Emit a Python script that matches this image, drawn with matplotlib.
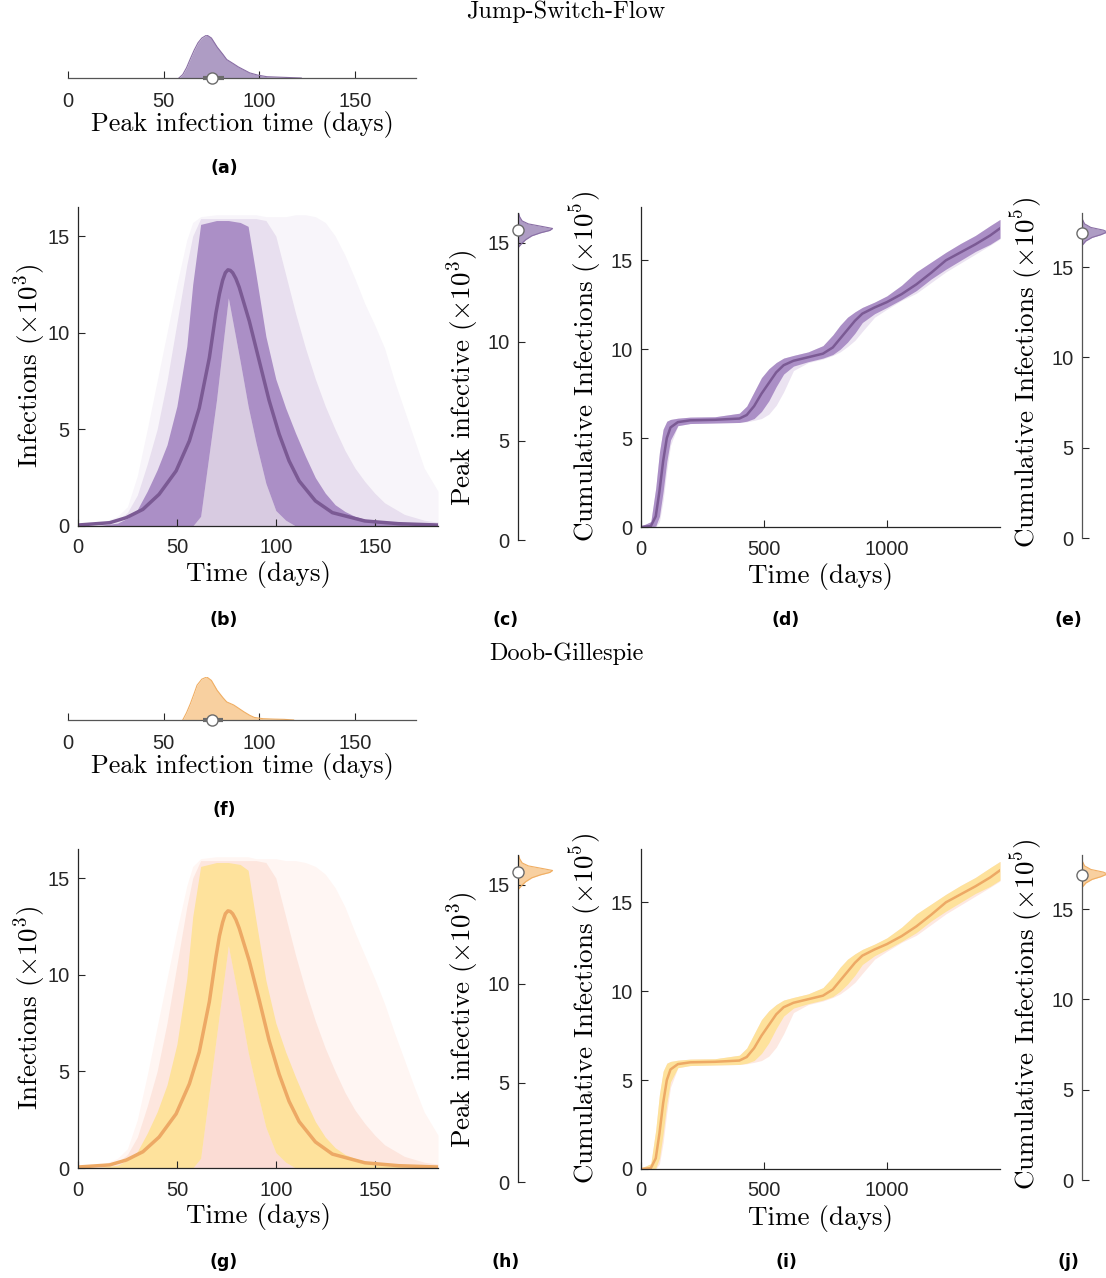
import numpy as np
import matplotlib
matplotlib.use("Agg")
import matplotlib.pyplot as plt

plt.rcParams['mathtext.fontset'] = 'cm'
plt.rcParams['axes.unicode_minus'] = False

W, H = 1106, 1278

# ---- peak infection time distributions (panels a, f) ----
peak_t_jsf = [58, 60, 62, 64, 66, 68, 70, 72.6, 75, 78, 81, 83, 86.6, 89, 92, 95, 99, 104, 110, 116, 122]
peak_t_jsf_dens = [0, 0.08, 0.24, 0.45, 0.65, 0.82, 0.93, 1.0, 0.93, 0.72, 0.55, 0.43, 0.33, 0.26, 0.19, 0.12, 0.07, 0.03, 0.02, 0.01, 0]
peak_t_dg = [60, 62, 64, 66, 67.5, 70, 72.6, 75, 78, 81, 83, 86.6, 89, 92, 95, 97.4, 102, 108, 113, 118]
peak_t_dg_dens = [0, 0.17, 0.38, 0.62, 0.81, 0.95, 1.0, 0.92, 0.69, 0.52, 0.42, 0.35, 0.28, 0.19, 0.11, 0.06, 0.03, 0.02, 0.015, 0]
peak_t_median = [75.4, 75.2]
peak_t_iqr = [(70.5, 81.5), (70.5, 81.0)]

# ---- infections over time (panels b, g), x10^3 ----
t_mean = [0, 16, 24.4, 32.8, 41, 49.6, 56.3, 61.3, 66.4, 69.7, 71.5, 73.1, 74.5, 75.8, 77, 78.2,
          79.8, 81.5, 86.6, 91.6, 96.6, 101.7, 106.7, 111.8, 120, 128.6, 145, 162, 182]
inf_mean_jsf = [0.05, 0.17, 0.43, 0.86, 1.64, 2.85, 4.4, 6.1, 8.7, 11.0, 12.0, 12.7, 13.1, 13.25, 13.22, 13.1,
                12.8, 12.35, 10.6, 8.55, 6.5, 4.75, 3.37, 2.33, 1.3, 0.69, 0.26, 0.12, 0.05]
inf_mean_dg = [0.05, 0.16, 0.41, 0.84, 1.6, 2.8, 4.35, 6.0, 8.6, 10.9, 12.0, 12.7, 13.15, 13.3, 13.27, 13.15,
               12.85, 12.4, 10.7, 8.7, 6.6, 4.85, 3.45, 2.4, 1.35, 0.72, 0.27, 0.12, 0.05]

t_env = [0, 10, 20, 25, 30, 35, 40, 45, 50, 55, 58, 62, 70, 76, 82, 86, 90, 95,
         100, 105, 110, 115, 120, 125, 130, 135, 140, 145, 150, 155, 160, 165, 170, 175, 182]
# envelopes of the whole ensemble (faint), the bulk (medium) and the core (dense)
jsf_faint_up = [0, 0.1, 0.5, 1.0, 2.6, 5.0, 7.5, 10.0, 12.5, 14.8, 15.7, 16.0, 16.1, 16.1, 16.1, 16.1, 16.1, 16.0,
                16.0, 16.0, 16.1, 16.1, 16.0, 15.7, 15.0, 14.0, 12.8, 11.5, 10.4, 9.2, 7.5, 6.0, 4.5, 3.0, 1.8]
jsf_mid_up = [0, 0.05, 0.3, 0.7, 1.6, 3.2, 5.0, 7.5, 10.5, 13.5, 15.0, 15.9, 15.9, 15.9, 15.9, 15.9, 15.9, 15.8,
              15.0, 13.0, 11.0, 9.2, 7.6, 6.2, 5.0, 3.9, 3.0, 2.3, 1.7, 1.2, 0.9, 0.6, 0.45, 0.3, 0.2]
jsf_core_up = [0, 0.02, 0.15, 0.4, 0.85, 1.8, 2.9, 4.2, 6.2, 9.3, 12.5, 15.6, 15.8, 15.8, 15.7, 15.5, 13.0, 9.8,
               7.6, 6.1, 4.8, 3.6, 2.5, 1.7, 1.1, 0.75, 0.5, 0.35, 0.25, 0.15, 0.1, 0.07, 0.05, 0.04, 0.03]
jsf_core_lo = [0, 0, 0, 0, 0, 0, 0, 0, 0, 0, 0, 0.5, 6.5, 11.8, 8.5, 6.2, 4.3, 2.2,
               0.8, 0.3, 0, 0, 0, 0, 0, 0, 0, 0, 0, 0, 0, 0, 0, 0, 0]

dg_faint_up = [0, 0.1, 0.5, 1.0, 2.5, 4.8, 7.3, 9.8, 12.3, 14.6, 15.6, 16.0, 16.1, 16.1, 16.1, 16.1, 16.0, 16.0,
               16.0, 15.9, 15.9, 15.8, 15.6, 15.2, 14.5, 13.5, 12.2, 11.0, 9.8, 8.5, 7.0, 5.6, 4.2, 2.9, 1.7]
dg_mid_up = [0, 0.05, 0.3, 0.7, 1.6, 3.2, 5.0, 7.5, 10.5, 13.5, 15.0, 15.9, 15.9, 15.9, 15.9, 15.9, 15.9, 15.8,
             15.0, 13.0, 11.0, 9.2, 7.6, 6.2, 5.0, 3.9, 3.0, 2.3, 1.7, 1.2, 0.9, 0.6, 0.45, 0.3, 0.2]
dg_core_up = [0, 0.02, 0.15, 0.4, 0.85, 1.8, 2.9, 4.3, 6.4, 9.8, 13.0, 15.6, 15.8, 15.8, 15.7, 15.4, 12.8, 9.7,
              7.5, 6.0, 4.7, 3.5, 2.4, 1.6, 1.05, 0.7, 0.5, 0.35, 0.25, 0.15, 0.1, 0.07, 0.05, 0.04, 0.03]
dg_core_lo = [0, 0, 0, 0, 0, 0, 0, 0, 0, 0, 0, 0.5, 6.8, 11.5, 8.3, 6.0, 4.2, 2.1,
              0.8, 0.3, 0, 0, 0, 0, 0, 0, 0, 0, 0, 0, 0, 0, 0, 0, 0]

# ---- peak infective (panels c, h), x10^3 ----
peak_i_y = [14.75, 14.95, 15.15, 15.35, 15.5, 15.62, 15.72, 15.82, 15.95, 16.1, 16.3, 16.58]
peak_i_dens = [0, 0.1, 0.22, 0.4, 0.65, 0.92, 1.0, 0.7, 0.3, 0.12, 0.05, 0]
peak_i_median = [15.65, 15.62]

# ---- cumulative infections (panels d, i), x10^5 ----
t_cum = [0, 40, 60, 75, 90, 105, 120, 150, 200, 300, 400, 430, 460, 490, 520, 550, 580, 620,
         680, 740, 780, 810, 840, 870, 900, 950, 1000, 1060, 1120, 1180, 1240, 1300, 1360, 1420, 1460]
cum_mean = [0, 0.05, 0.6, 2.0, 3.7, 5.0, 5.6, 5.9, 6.0, 6.03, 6.1, 6.3, 6.8, 7.5, 8.1, 8.7, 9.1, 9.35,
            9.55, 9.75, 10.1, 10.6, 11.1, 11.6, 12.0, 12.35, 12.65, 13.1, 13.65, 14.3, 15.0, 15.45, 15.9, 16.4, 16.8]
cum_up = [0.05, 0.3, 2.2, 4.2, 5.5, 5.95, 6.05, 6.12, 6.18, 6.2, 6.4, 6.8, 7.6, 8.4, 8.9, 9.25, 9.5, 9.65,
          9.85, 10.2, 10.8, 11.35, 11.8, 12.1, 12.35, 12.65, 13.0, 13.6, 14.35, 14.9, 15.45, 15.95, 16.4, 16.95, 17.3]
cum_lo = [0, 0, 0.05, 0.6, 2.0, 3.7, 4.9, 5.7, 5.82, 5.85, 5.88, 5.95, 6.1, 6.5, 7.1, 7.9, 8.6, 9.05,
          9.3, 9.5, 9.7, 10.0, 10.4, 10.9, 11.5, 12.0, 12.35, 12.8, 13.3, 13.95, 14.5, 15.0, 15.5, 15.9, 16.25]
cum_faint_lo = [0, 0, 0, 0.3, 1.5, 3.2, 4.6, 5.7, 5.82, 5.85, 5.88, 5.92, 6.0, 6.1, 6.35, 6.85, 7.6, 8.8,
                9.25, 9.45, 9.65, 9.85, 10.15, 10.5, 11.0, 11.8, 12.25, 12.75, 13.15, 13.75, 14.35, 14.85, 15.35, 15.85, 16.2]

# ---- cumulative infections at end (panels e, j), x10^5 ----
final_y = [16.2, 16.45, 16.65, 16.8, 16.95, 17.05, 17.2, 17.4, 17.7]
final_dens = [0, 0.15, 0.4, 0.75, 1.0, 0.85, 0.35, 0.1, 0]
final_median = [16.9, 16.9]

schemes = [
    dict(name="Jump-Switch-Flow", off=0, labels="abcde",
         faint="#f8f5fa", mid="#e8dfef", inner="#d8cbe1", core="#ab8fc6", line="#7b5a94",
         vfill="#ae9cc4", vedge="#8a6fa5", cfaint="#ebe3f1",
         pt=peak_t_jsf, ptd=peak_t_jsf_dens, mean=inf_mean_jsf,
         fu=jsf_faint_up, mu=jsf_mid_up, cu=jsf_core_up, cl=jsf_core_lo),
    dict(name="Doob-Gillespie", off=642, labels="fghij",
         faint="#fff6f3", mid="#fde6de", inner="#fbdcd4", core="#fee29c", line="#eda965",
         vfill="#f8d0a0", vedge="#f0ae63", cfaint="#fde8e1",
         pt=peak_t_dg, ptd=peak_t_dg_dens, mean=inf_mean_dg,
         fu=dg_faint_up, mu=dg_mid_up, cu=dg_core_up, cl=dg_core_lo),
]

fig = plt.figure(figsize=(W / 100, H / 100), dpi=100)
AX_COL = "#262626"
SERIF = "cmr10"
SANS = "Liberation Sans"
TICK_FS = 14.5
LAB_FS = 19.5


def px_axes(left, right, bottom, top):
    return fig.add_axes([left / W, 1 - bottom / H, (right - left) / W, (bottom - top) / H])


def style(ax, keep):
    for s in ["left", "right", "top", "bottom"]:
        ax.spines[s].set_visible(s in keep)
        ax.spines[s].set_color(AX_COL)
        ax.spines[s].set_linewidth(0.9)
    ax.tick_params(direction="in", length=5, width=0.8, colors=AX_COL,
                   labelsize=TICK_FS, labelcolor=AX_COL)
    ax.tick_params(axis="x", pad=9)
    ax.tick_params(axis="y", pad=6)
    ax.set_facecolor("none")


def ftext(x, y, s, **kw):
    fig.text(x / W, 1 - y / H, s, ha="center", va="center", **kw)


def sans_ticks(ax):
    for t in ax.get_xticklabels() + ax.get_yticklabels():
        t.set_family(SANS)


for k, sc in enumerate(schemes):
    o = sc["off"]
    lab = sc["labels"]
    ftext(566, 12 + o, sc["name"], family=SERIF, fontsize=17.5)

    # (a)/(f) peak infection time
    ax = px_axes(68, 416, 78 + o, 35 + o)
    style(ax, ["bottom"])
    ax.fill_between(sc["pt"], 0, sc["ptd"], color=sc["vfill"], lw=0)
    ax.plot(sc["pt"], sc["ptd"], color=sc["vedge"], lw=0.8)
    lo, hi = peak_t_iqr[k]
    ax.plot([lo, hi], [0, 0], color="#6b6b6b", lw=3, solid_capstyle="butt", clip_on=False, zorder=3)
    ax.plot(peak_t_median[k], 0, "o", mfc="white", mec="#6b6b6b", ms=8, mew=1, clip_on=False, zorder=4)
    ax.set_xlim(0, 182)
    ax.set_ylim(0, 1)
    ax.set_xticks([0, 50, 100, 150])
    ax.set_yticks([])
    ax.spines["bottom"].set_color("#555555")
    ax.tick_params(axis="x", pad=10)
    sans_ticks(ax)
    ftext(242, 125 + o, "Peak infection time (days)", family=SERIF, fontsize=18.8)
    ftext(224, 168 + o, "(%s)" % lab[0], fontsize=12.5, fontweight="bold")

    # (b)/(g) infections over time
    ax = px_axes(78, 438, 526 + o, 207 + o)
    style(ax, ["left", "bottom"])
    ax.fill_between(t_env, 0, sc["fu"], color=sc["faint"], lw=0)
    ax.fill_between(t_env, 0, sc["mu"], color=sc["mid"], lw=0)
    ax.fill_between(t_env, 0, sc["cl"], color=sc["inner"], lw=0)
    ax.fill_between(t_env, sc["cl"], sc["cu"], color=sc["core"], lw=0)
    ax.plot(t_mean, sc["mean"], color=sc["line"], lw=2.5)
    ax.set_xlim(0, 182)
    ax.set_ylim(0, 16.5)
    ax.set_xticks([0, 50, 100, 150])
    ax.set_yticks([0, 5, 10, 15])
    sans_ticks(ax)
    ftext(259, 575 + o, "Time (days)", family=SERIF, fontsize=LAB_FS)
    ftext(30, 366 + o, r"Infections $(\times 10^3)$", family=SERIF, fontsize=LAB_FS, rotation=90)
    ftext(224, 620 + o, "(%s)" % lab[1], fontsize=12.5, fontweight="bold")

    # (c)/(h) peak infective
    ax = px_axes(518, 556, 540 + o, 213 + o)
    style(ax, ["left"])
    ax.fill_betweenx(peak_i_y, 0, peak_i_dens, color=sc["vfill"], lw=0)
    ax.plot(peak_i_dens, peak_i_y, color=sc["vedge"], lw=0.8)
    ax.plot(0, peak_i_median[k], "o", mfc="white", mec="#6b6b6b", ms=8, mew=1, clip_on=False, zorder=4)
    ax.set_xlim(0, 1.1)
    ax.set_ylim(0, 16.5)
    ax.set_xticks([])
    ax.set_yticks([0, 5, 10, 15])
    sans_ticks(ax)
    ftext(463, 378 + o, r"Peak infective $(\times 10^3)$", family=SERIF, fontsize=LAB_FS, rotation=90)
    ftext(506, 620 + o, "(%s)" % lab[2], fontsize=12.5, fontweight="bold")

    # (d)/(i) cumulative infections
    ax = px_axes(641, 1000, 527 + o, 207 + o)
    style(ax, ["left", "bottom"])
    ax.fill_between(t_cum, cum_faint_lo, cum_up, color=sc["cfaint"], lw=0)
    ax.fill_between(t_cum, cum_lo, cum_up, color=sc["core"], lw=0)
    ax.plot(t_cum, cum_mean, color=sc["line"], lw=1.8)
    ax.set_xlim(0, 1460)
    ax.set_ylim(0, 18)
    ax.set_xticks([0, 500, 1000])
    ax.set_yticks([0, 5, 10, 15])
    sans_ticks(ax)
    ftext(820, 576 + o, "Time (days)", family=SERIF, fontsize=LAB_FS)
    ftext(586, 367 + o, r"Cumulative Infections $(\times 10^5)$", family=SERIF, fontsize=LAB_FS, rotation=90)
    ftext(786, 620 + o, "(%s)" % lab[3], fontsize=12.5, fontweight="bold")

    # (e)/(j) final cumulative infections
    ax = px_axes(1082, 1106, 538 + o, 213 + o)
    style(ax, ["left"])
    ax.spines["left"].set_color("#555555")
    ax.fill_betweenx(final_y, 0, final_dens, color=sc["vfill"], lw=0)
    ax.plot(final_dens, final_y, color=sc["vedge"], lw=0.8)
    ax.plot(0, final_median[k], "o", mfc="white", mec="#6b6b6b", ms=8, mew=1, clip_on=False, zorder=4)
    ax.set_xlim(0, 0.95)
    ax.set_ylim(0, 18)
    ax.set_xticks([])
    ax.set_yticks([0, 5, 10, 15])
    sans_ticks(ax)
    ftext(1027, 373 + o, r"Cumulative Infections $(\times 10^5)$", family=SERIF, fontsize=LAB_FS, rotation=90)
    ftext(1068, 620 + o, "(%s)" % lab[4], fontsize=12.5, fontweight="bold")

fig.savefig("out.png", dpi=100, facecolor="white")
